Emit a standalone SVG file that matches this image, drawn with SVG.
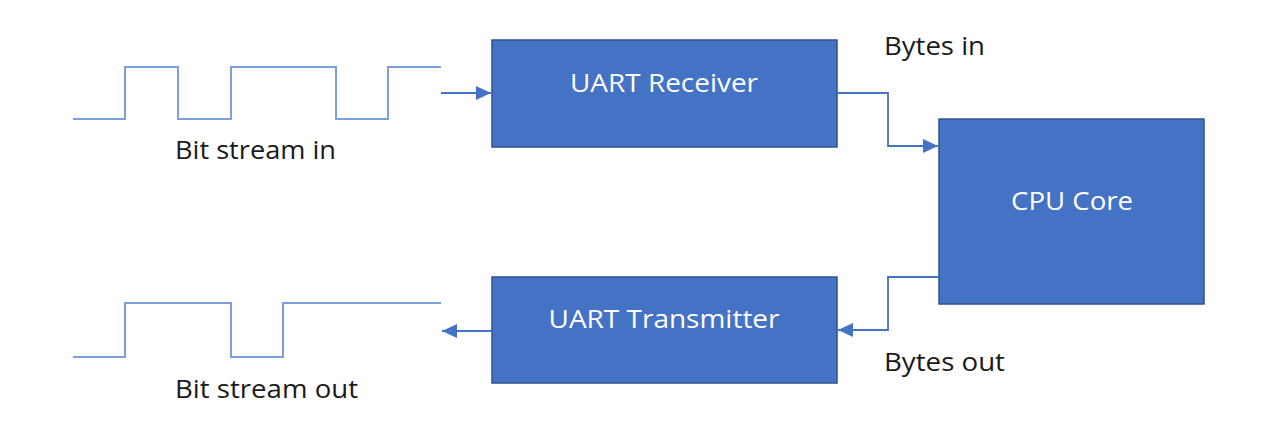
<svg xmlns="http://www.w3.org/2000/svg" width="1280" height="440" viewBox="0 0 1280 440">
  <style>
    .box { fill: #4472C4; stroke: #2F528F; stroke-width: 1.5; }
    .wire { fill: none; stroke: #4472C4; stroke-width: 1.8; }
    .wave { fill: none; stroke: #7CA0DC; stroke-width: 2; }
    .lbl { font-family: "Open Sans", "Noto Sans", sans-serif; font-size: 25px; fill: #1A1A1A; }
    .in { font-family: "Open Sans", "Noto Sans", sans-serif; font-size: 26px; fill: #FFFFFF; text-anchor: middle; }
  </style>
  <defs>
    <marker id="arr" markerUnits="userSpaceOnUse" markerWidth="16" markerHeight="16" viewBox="0 0 16 16" refX="15" refY="8" orient="auto">
      <path d="M0,1 L15,8 L0,15 Z" fill="#4472C4"/>
    </marker>
  </defs>
  <rect width="1280" height="440" fill="#FFFFFF"/>

  <g id="wave-in">
    <polyline class="wave" points="73,119 125,119 125,67 178,67 178,119 231,119 231,67 336,67 336,119 388,119 388,67 441,67"/>
    <text class="lbl" x="175" y="159" textLength="161" lengthAdjust="spacingAndGlyphs">Bit stream in</text>
  </g>

  <g id="wave-out">
    <polyline class="wave" points="73,357 125,357 125,303 231,303 231,357 283,357 283,303 441,303"/>
    <text class="lbl" x="175" y="398" textLength="183" lengthAdjust="spacingAndGlyphs">Bit stream out</text>
  </g>

  <g id="uart-receiver">
    <rect class="box" x="492" y="40" width="345" height="107"/>
    <text class="in" x="664" y="92" textLength="188" lengthAdjust="spacingAndGlyphs">UART Receiver</text>
  </g>

  <g id="uart-transmitter">
    <rect class="box" x="492" y="277" width="345" height="106"/>
    <text class="in" x="664" y="328" textLength="231" lengthAdjust="spacingAndGlyphs">UART Transmitter</text>
  </g>

  <g id="cpu-core">
    <rect class="box" x="939" y="119" width="265" height="185"/>
    <text class="in" x="1072" y="210" textLength="122" lengthAdjust="spacingAndGlyphs">CPU Core</text>
  </g>

  <g id="labels">
    <text class="lbl" x="884" y="55" textLength="101" lengthAdjust="spacingAndGlyphs">Bytes in</text>
    <text class="lbl" x="884" y="371" textLength="121" lengthAdjust="spacingAndGlyphs">Bytes out</text>
  </g>

  <g id="connectors">
    <path class="wire" d="M441,93 L491,93" marker-end="url(#arr)"/>
    <path class="wire" d="M837,93 L888,93 L888,146 L938,146" marker-end="url(#arr)"/>
    <path class="wire" d="M939,277 L888,277 L888,330 L838,330" marker-end="url(#arr)"/>
    <path class="wire" d="M492,331 L442,331" marker-end="url(#arr)"/>
  </g>
</svg>
